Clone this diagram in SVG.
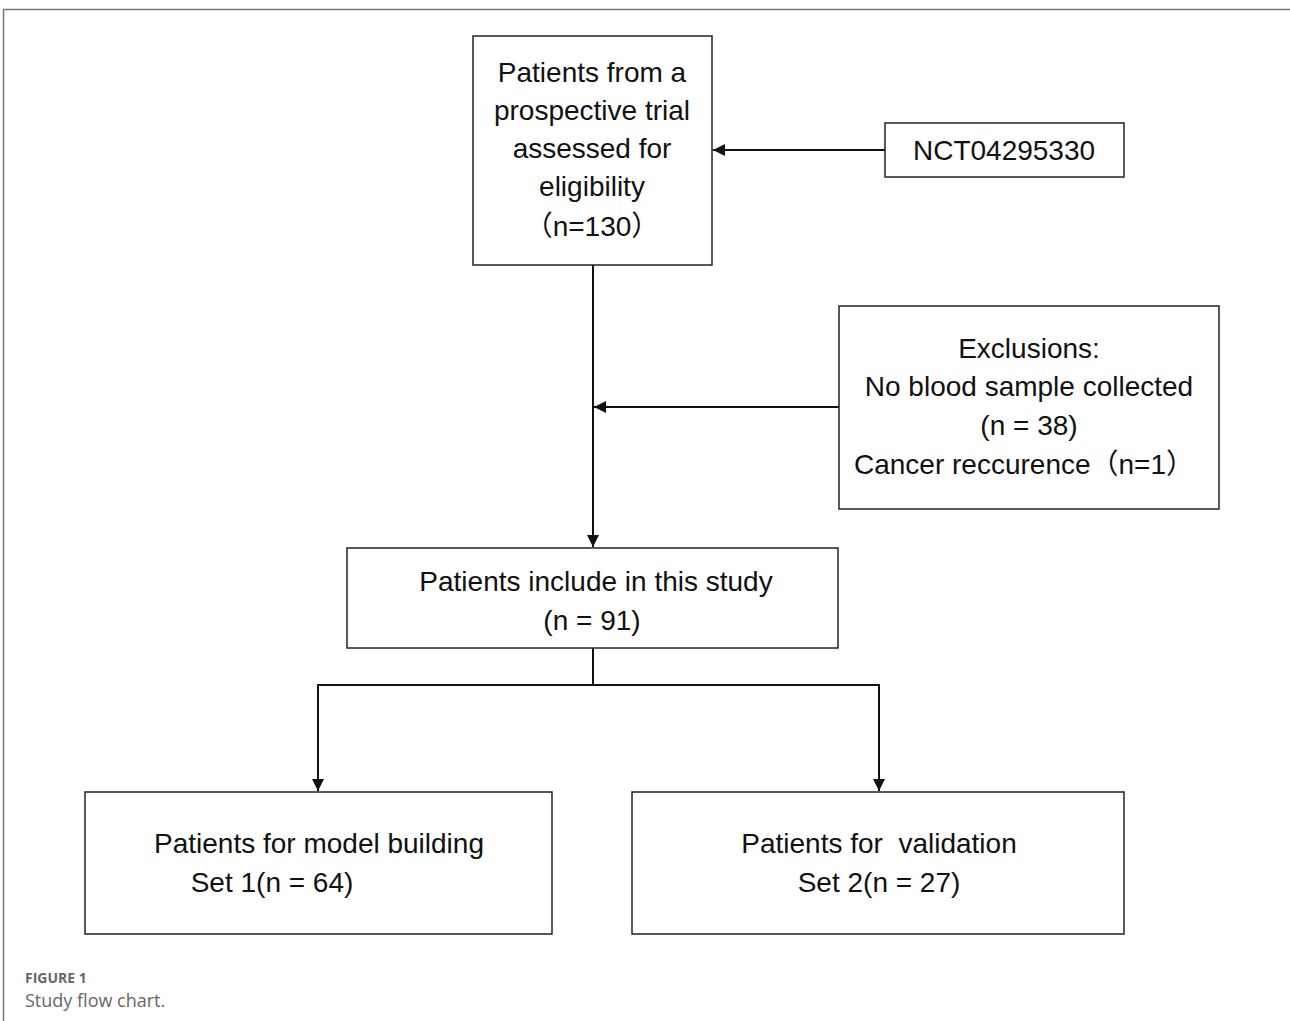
<svg xmlns="http://www.w3.org/2000/svg" width="1290" height="1021" viewBox="0 0 1290 1021">
<defs>
<style>
.box{fill:#fff;stroke:#222;stroke-width:1.5}
.t{font-family:"Liberation Sans","Noto Sans CJK SC",sans-serif;font-size:28px;fill:#111;text-anchor:middle}
.c{fill:none;stroke:#111;stroke-width:2}
.cap{font-family:"Open Sans","Liberation Sans",sans-serif;fill:#666}
</style>
<marker id="ahb" viewBox="0 0 10 10" refX="10" refY="5" markerWidth="13" markerHeight="12" orient="auto" markerUnits="userSpaceOnUse">
<path d="M0,0 L10,5 L0,10 z" fill="#111"/>
</marker>
</defs>
<rect width="1290" height="1021" fill="#fff"/>
<path d="M3.5,1021 V9.5 H1290" fill="none" stroke="#777" stroke-width="1.5"/>
<g id="connectors">
<line class="c" x1="885" y1="150" x2="713" y2="150" marker-end="url(#ahb)"/>
<line class="c" x1="593" y1="265" x2="593" y2="547" marker-end="url(#ahb)"/>
<line class="c" x1="839" y1="407" x2="594" y2="407" marker-end="url(#ahb)"/>
<polyline class="c" points="593,648 593,685"/>
<polyline class="c" points="318,685 879,685 879,791" marker-end="url(#ahb)"/>
<line class="c" x1="318" y1="684" x2="318" y2="791" marker-end="url(#ahb)"/>
</g>
<g id="n1">
<rect class="box" x="473" y="36" width="239" height="229"/>
<text class="t" x="592" y="82">Patients from a</text>
<text class="t" x="592" y="120">prospective trial</text>
<text class="t" x="592" y="158">assessed for</text>
<text class="t" x="592" y="196">eligibility</text>
<text class="t" x="592" y="236">（n=130）</text>
</g>
<g id="n2">
<rect class="box" x="885" y="123" width="239" height="54"/>
<text class="t" x="1004" y="160">NCT04295330</text>
</g>
<g id="n3">
<rect class="box" x="839" y="306" width="380" height="203"/>
<text class="t" x="1029" y="358">Exclusions:</text>
<text class="t" x="1029" y="396">No blood sample collected</text>
<text class="t" x="1029" y="435">(n = 38)</text>
<text class="t" x="1024" y="474">Cancer reccurence（n=1）</text>
</g>
<g id="n4">
<rect class="box" x="347" y="548" width="491" height="100"/>
<text class="t" x="596" y="591">Patients include in this study</text>
<text class="t" x="592" y="630">(n = 91)</text>
</g>
<g id="n5">
<rect class="box" x="85" y="792" width="467" height="142"/>
<text class="t" x="319" y="853">Patients for model building</text>
<text class="t" x="272" y="892">Set 1(n = 64)</text>
</g>
<g id="n6">
<rect class="box" x="632" y="792" width="492" height="142"/>
<text class="t" x="879" y="853" xml:space="preserve">Patients for  validation</text>
<text class="t" x="879" y="892">Set 2(n = 27)</text>
</g>
<text class="cap" x="25" y="983" font-size="14" font-weight="bold">FIGURE 1</text>
<text class="cap" x="25" y="1007" font-size="18">Study flow chart.</text>
</svg>
